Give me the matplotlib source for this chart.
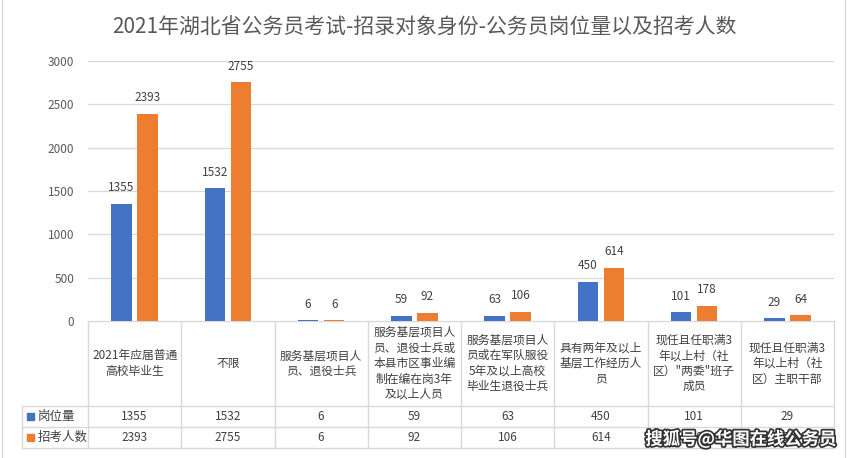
import numpy as np
import matplotlib.pyplot as plt
import matplotlib.patheffects as pe

plt.rcParams['font.family'] = ['Noto Sans CJK SC', 'DejaVu Sans']

title = '2021年湖北省公务员考试-招录对象身份-公务员岗位量以及招考人数'
categories = [
	'2021年应届普通\n高校毕业生',
	'不限',
	'服务基层项目人\n员、退役士兵',
	'服务基层项目人\n员、退役士兵或\n本县市区事业编\n制在编在岗3年\n及以上人员',
	'服务基层项目人\n员或在军队服役\n5年及以上高校\n毕业生退役士兵',
	'具有两年及以上\n基层工作经历人\n员',
	'现任且任职满3\n年以上村（社\n区）"两委"班子\n成员',
	'现任且任职满3\n年以上村（社\n区）主职干部',
]
series_names = ['岗位量', '招考人数']
posts = [1355, 1532, 6, 59, 63, 450, 101, 29]
applicants = [2393, 2755, 6, 92, 106, 614, 178, 64]
colors = ['#4472C4', '#ED7D31']

W, H = 848, 458
fig = plt.figure(figsize=(W / 100, H / 100), dpi=100)

# plot area in pixels
x0, x1 = 88, 834
y_top, y_zero = 61, 321
ax = fig.add_axes([x0 / W, 1 - y_zero / H, (x1 - x0) / W, (y_zero - y_top) / H])

n = len(categories)
x = np.arange(n)
bw = 0.22
for vals, c, off in [(posts, colors[0], -0.14), (applicants, colors[1], 0.14)]:
	bars = ax.bar(x + off, vals, width=bw, color=c, zorder=3)
	for b, v in zip(bars, vals):
		ax.annotate(str(v), (b.get_x() + b.get_width() / 2, v), xytext=(0, 7),
			textcoords='offset points', ha='center', va='bottom', fontsize=8.5, color='#404040')

ax.set_xlim(-0.5, n - 0.5)
ax.set_ylim(0, 3000)
ax.set_yticks(range(0, 3001, 500))
ax.tick_params(axis='y', length=0, labelsize=8.5, labelcolor='#595959', pad=10)
ax.set_xticks([])
ax.grid(axis='y', color='#D9D9D9', linewidth=0.9, zorder=0)
for s in ax.spines.values():
	s.set_visible(False)

# overlay for the data table, in pixel coordinates
ov = fig.add_axes([0, 0, 1, 1], zorder=-1)
ov.set_xlim(0, W)
ov.set_ylim(H, 0)
ov.axis('off')
lc = '#D9D9D9'
cw = (x1 - x0) / n
r0, r1, r2, r3 = 321, 406, 427, 448
lx = 22
ov.plot([x0, x1], [r0, r0], color=lc, lw=1)
for yy in (r1, r2, r3):
	ov.plot([lx, x1], [yy, yy], color=lc, lw=1)
for i in range(n + 1):
	ov.plot([x0 + i * cw] * 2, [r0, r3], color=lc, lw=1)
ov.plot([lx, lx], [r1, r3], color=lc, lw=1)

for i, cat in enumerate(categories):
	cx = x0 + (i + 0.5) * cw
	ov.text(cx, (r0 + r1) / 2, cat, ha='center', va='center', fontsize=8.5,
		color='#404040', linespacing=1.25)
	ov.text(cx, (r1 + r2) / 2, str(posts[i]), ha='center', va='center', fontsize=8.5, color='#404040')
	ov.text(cx, (r2 + r3) / 2, str(applicants[i]), ha='center', va='center', fontsize=8.5, color='#404040')

for k, (name, yy) in enumerate(zip(series_names, [(r1 + r2) / 2, (r2 + r3) / 2])):
	ov.add_patch(plt.Rectangle((27, yy - 3.5), 7, 7, color=colors[k]))
	ov.text(38, yy, name, ha='left', va='center', fontsize=9, color='#404040')

# chart border
ov.plot([2, 2], [0, H], color=lc, lw=1)
ov.plot([845, 845], [0, H], color=lc, lw=1)

fig.text(0.5, 1 - 28 / H, title, ha='center', va='center', fontsize=15, color='#595959')

fig.text(741 / W, 1 - 439 / H, '搜狐号@华图在线公务员', ha='center', va='center',
	fontsize=12.5, fontweight='bold', color='white',
	path_effects=[pe.withStroke(linewidth=2.5, foreground='#333333')])

fig.savefig('out.png', dpi=100)
